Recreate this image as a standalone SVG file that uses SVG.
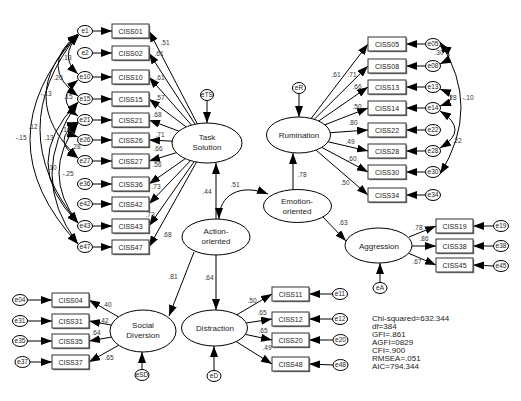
<svg xmlns="http://www.w3.org/2000/svg" width="521" height="401" viewBox="0 0 521 401">
<defs>
<marker id="ah" viewBox="0 0 11 8" refX="11" refY="4" markerWidth="11" markerHeight="8" markerUnits="userSpaceOnUse" orient="auto-start-reverse"><path d="M0,0L11,4L0,8z" fill="#000"/></marker>
</defs>
<style>
text{font-family:"Liberation Sans",Arial,sans-serif;fill:#222}
.bx{fill:#fff;stroke:#333;stroke-width:1}
.sh{fill:#777}
.bt{font-size:7px;text-anchor:middle}
.er{fill:#fff;stroke:#000;stroke-width:1}
.et{font-size:6.5px;text-anchor:middle}
.lv{fill:#fff;stroke:#000;stroke-width:1}
.lt{font-size:8px;text-anchor:middle}
.c line,.c path{stroke:#000;stroke-width:1;fill:none;marker-end:url(#ah)}
.c path.cv{marker-start:url(#ah)}
.cl{font-size:6.5px;text-anchor:middle;fill:#333}
.st{font-size:8px}
</style>
<rect width="521" height="401" fill="#fff"/>

<g id="connectors" class="c">
<line x1="92.5" y1="31" x2="112" y2="31"/><line x1="92.5" y1="53" x2="112" y2="53"/><line x1="92.5" y1="77" x2="112" y2="77"/><line x1="92.5" y1="99" x2="112" y2="99"/><line x1="92.5" y1="120" x2="112" y2="120"/><line x1="92.5" y1="140" x2="112" y2="140"/><line x1="92.5" y1="161" x2="112" y2="161"/><line x1="92.5" y1="184" x2="112" y2="184"/><line x1="92.5" y1="204" x2="112" y2="204"/><line x1="92.5" y1="226" x2="112" y2="226"/><line x1="92.5" y1="247" x2="112" y2="247"/>
<line x1="197.3" y1="123.8" x2="149" y2="31"/><line x1="195.1" y1="124.2" x2="149" y2="53"/><line x1="191.5" y1="125.1" x2="149" y2="77"/><line x1="186.2" y1="126.9" x2="149" y2="99"/><line x1="178.8" y1="131.1" x2="149" y2="120"/><line x1="172.1" y1="141.2" x2="149" y2="140"/><line x1="176.4" y1="152.7" x2="149" y2="161"/><line x1="185.2" y1="158.7" x2="149" y2="184"/><line x1="190.5" y1="160.6" x2="149" y2="204"/><line x1="194.2" y1="161.6" x2="149" y2="226"/><line x1="196.5" y1="162.1" x2="149" y2="247"/>
<line x1="207" y1="100.5" x2="207" y2="123"/>
<path class="cv" d="M78,34 Q-18,140 78,244"/>
<path class="cv" d="M78,34 Q2,130 78,223"/>
<path class="cv" d="M78,34 Q14,97 78,158"/>
<path class="cv" d="M78,34 Q38,66 78,96"/>
<path class="cv" d="M79,35 Q58,56 78,74"/>
<path class="cv" d="M78,102 Q18,163 78,223"/>
<path class="cv" d="M78,102 Q26,175 78,244"/>
<path class="cv" d="M78,80 Q54,99 78,116"/>
<path class="cv" d="M78,122 Q58,130 78,137"/>
<path class="cv" d="M78,122 Q50,141 78,158"/>
<path class="cv" d="M78,123 Q40,173 78,223"/>
<line x1="299" y1="93.5" x2="299" y2="117"/>
<line x1="311.1" y1="118.5" x2="368" y2="44"/><line x1="314.3" y1="119.3" x2="368" y2="66"/><line x1="318.7" y1="121" x2="368" y2="87"/><line x1="324.8" y1="124.8" x2="368" y2="108"/><line x1="330.3" y1="132.7" x2="368" y2="130"/><line x1="328.1" y1="141.8" x2="368" y2="151"/><line x1="321.7" y1="147.4" x2="368" y2="172"/><line x1="316" y1="150.1" x2="368" y2="195"/>
<line x1="425.5" y1="44" x2="406" y2="44"/><line x1="425.5" y1="66" x2="406" y2="66"/><line x1="425.5" y1="87" x2="406" y2="87"/><line x1="425.5" y1="108" x2="406" y2="108"/><line x1="425.5" y1="130" x2="406" y2="130"/><line x1="425.5" y1="151" x2="406" y2="151"/><line x1="425.5" y1="172" x2="406" y2="172"/><line x1="425.5" y1="195" x2="406" y2="195"/>
<path class="cv" d="M440,46 Q458,55 440,64"/>
<path class="cv" d="M440,89 Q462,98 440,106"/>
<path class="cv" d="M440,111 Q470,130 440,148"/>
<path class="cv" d="M440,42 Q482,107 440,174"/>
<line x1="293" y1="190" x2="293" y2="153"/>
<line x1="216" y1="219" x2="216" y2="163"/>
<path class="cv" d="M219,219 C219,195 240,183 268,194"/>
<line x1="323" y1="217" x2="346" y2="241"/>
<line x1="194" y1="252" x2="169" y2="316"/>
<line x1="216" y1="255" x2="216" y2="310"/>
<line x1="380" y1="283" x2="380" y2="263"/>
<line x1="409" y1="237" x2="436" y2="226"/><line x1="412" y1="246" x2="436" y2="246"/><line x1="408" y1="253" x2="436" y2="265"/>
<line x1="493.5" y1="226" x2="473" y2="226"/><line x1="493.5" y1="246" x2="473" y2="246"/><line x1="493.5" y1="266" x2="473" y2="265"/>
<line x1="142" y1="370" x2="142" y2="352"/>
<line x1="118.5" y1="316.9" x2="89" y2="300"/><line x1="111.3" y1="325.1" x2="89" y2="321"/><line x1="111.5" y1="337.1" x2="89" y2="341"/><line x1="118.7" y1="345.2" x2="89" y2="362"/>
<line x1="27.5" y1="300" x2="52" y2="300"/><line x1="27.5" y1="321" x2="52" y2="321"/><line x1="27.5" y1="341" x2="52" y2="341"/><line x1="30" y1="362" x2="52" y2="362"/>
<line x1="214" y1="371" x2="214" y2="346"/>
<line x1="236.9" y1="314.8" x2="272" y2="294"/><line x1="246.2" y1="323" x2="272" y2="319"/><line x1="245.3" y1="334.4" x2="272" y2="340"/><line x1="236.2" y1="341.6" x2="272" y2="364"/>
<line x1="332.5" y1="294" x2="309" y2="294"/><line x1="332.5" y1="319" x2="309" y2="319"/><line x1="333" y1="340" x2="309" y2="340"/><line x1="333" y1="365" x2="309" y2="364"/>
</g>

<g id="labels">
<text class="cl" x="165" y="45">.51</text><text class="cl" x="159" y="56">.61</text><text class="cl" x="160" y="80">.61</text><text class="cl" x="160" y="100">.57</text><text class="cl" x="157" y="117">.68</text><text class="cl" x="160" y="137">.71</text><text class="cl" x="158" y="151">.66</text><text class="cl" x="157" y="167">.56</text><text class="cl" x="156" y="189">.73</text><text class="cl" x="150" y="217">.73</text><text class="cl" x="167" y="237">.68</text>
<text class="cl" x="67" y="60">.13</text><text class="cl" x="58" y="80">.20</text><text class="cl" x="46" y="96">-.13</text><text class="cl" x="68" y="99">.15</text><text class="cl" x="33" y="129">.12</text><text class="cl" x="66" y="132">.10</text><text class="cl" x="21" y="140">-.15</text><text class="cl" x="49" y="140">.13</text><text class="cl" x="76" y="149">.28</text><text class="cl" x="52" y="170">.10</text><text class="cl" x="68" y="176">-.25</text>
<text class="cl" x="336" y="77">.61</text><text class="cl" x="352" y="77">.71</text><text class="cl" x="357" y="89">.66</text><text class="cl" x="357" y="109">.50</text><text class="cl" x="353" y="125">.80</text><text class="cl" x="350" y="144">.49</text><text class="cl" x="352" y="161">.60</text><text class="cl" x="345" y="185">.50</text>
<text class="cl" x="439" y="55">.30</text><text class="cl" x="452" y="100">.28</text><text class="cl" x="468" y="100">-.10</text><text class="cl" x="457" y="143">.22</text>
<text class="cl" x="302" y="177">.78</text><text class="cl" x="207" y="194">.44</text><text class="cl" x="235" y="187">.51</text><text class="cl" x="343" y="225">.63</text><text class="cl" x="173" y="279">.81</text><text class="cl" x="209" y="280">.64</text>
<text class="cl" x="418" y="230">.78</text><text class="cl" x="424" y="241">.86</text><text class="cl" x="417" y="264">.67</text>
<text class="cl" x="107" y="307">.40</text><text class="cl" x="104" y="323">.42</text><text class="cl" x="96" y="335">.64</text><text class="cl" x="109" y="360">.65</text>
<text class="cl" x="252" y="303">.50</text><text class="cl" x="262" y="315">.65</text><text class="cl" x="263" y="333">.65</text><text class="cl" x="267" y="350">.49</text>
</g>

<g id="TaskSolution"><ellipse class="lv" cx="207" cy="143" rx="35" ry="20"/><text class="lt" x="207" y="140">Task</text><text class="lt" x="207" y="150">Solution</text></g>
<g id="eTS"><ellipse class="er" cx="207" cy="95" rx="6.5" ry="5.5"/><text class="et" x="207" y="97.3">eTS</text></g>
<g id="Rumination"><ellipse class="lv" cx="298.5" cy="135" rx="32" ry="18"/><text class="lt" x="299" y="138">Rumination</text></g>
<g id="eR"><ellipse class="er" cx="299" cy="88" rx="6.5" ry="5.5"/><text class="et" x="299" y="90.3">eR</text></g>
<g id="EmotionOriented"><ellipse class="lv" cx="297.5" cy="206" rx="34" ry="16.5"/><text class="lt" x="297" y="204">Emotion-</text><text class="lt" x="297" y="214">oriented</text></g>
<g id="ActionOriented"><ellipse class="lv" cx="216" cy="237" rx="34" ry="18"/><text class="lt" x="216" y="234">Action-</text><text class="lt" x="216" y="244">oriented</text></g>
<g id="Aggression"><ellipse class="lv" cx="378.5" cy="245.5" rx="33.5" ry="17.5"/><text class="lt" x="379" y="248.5">Aggression</text></g>
<g id="eA"><ellipse class="er" cx="380" cy="288" rx="7" ry="5.5"/><text class="et" x="380" y="290.3">eA</text></g>
<g id="SocialDiversion"><ellipse class="lv" cx="143" cy="331" rx="33" ry="21"/><text class="lt" x="143" y="328">Social</text><text class="lt" x="143" y="338">Diversion</text></g>
<g id="eSD"><ellipse class="er" cx="142" cy="375" rx="7" ry="5.5"/><text class="et" x="142" y="377.3">eSD</text></g>
<g id="Distraction"><ellipse class="lv" cx="214.5" cy="328" rx="33" ry="18"/><text class="lt" x="215" y="331">Distraction</text></g>
<g id="eD"><ellipse class="er" cx="214" cy="376" rx="7" ry="5.5"/><text class="et" x="214" y="378.3">eD</text></g>

<g id="CISS01"><rect class="sh" x="113.2" y="25.2" width="37" height="14"/><rect class="bx" x="112" y="24" width="37" height="14"/><text class="bt" x="130.5" y="33.5">CISS01</text></g>
<g id="CISS02"><rect class="sh" x="113.2" y="47.2" width="37" height="14"/><rect class="bx" x="112" y="46" width="37" height="14"/><text class="bt" x="130.5" y="55.5">CISS02</text></g>
<g id="CISS10"><rect class="sh" x="113.2" y="71.2" width="37" height="14"/><rect class="bx" x="112" y="70" width="37" height="14"/><text class="bt" x="130.5" y="79.5">CISS10</text></g>
<g id="CISS15"><rect class="sh" x="113.2" y="93.2" width="37" height="14"/><rect class="bx" x="112" y="92" width="37" height="14"/><text class="bt" x="130.5" y="101.5">CISS15</text></g>
<g id="CISS21"><rect class="sh" x="113.2" y="114.2" width="37" height="14"/><rect class="bx" x="112" y="113" width="37" height="14"/><text class="bt" x="130.5" y="122.5">CISS21</text></g>
<g id="CISS26"><rect class="sh" x="113.2" y="134.2" width="37" height="14"/><rect class="bx" x="112" y="133" width="37" height="14"/><text class="bt" x="130.5" y="142.5">CISS26</text></g>
<g id="CISS27"><rect class="sh" x="113.2" y="155.2" width="37" height="14"/><rect class="bx" x="112" y="154" width="37" height="14"/><text class="bt" x="130.5" y="163.5">CISS27</text></g>
<g id="CISS36"><rect class="sh" x="113.2" y="178.2" width="37" height="14"/><rect class="bx" x="112" y="177" width="37" height="14"/><text class="bt" x="130.5" y="186.5">CISS36</text></g>
<g id="CISS42"><rect class="sh" x="113.2" y="198.2" width="37" height="14"/><rect class="bx" x="112" y="197" width="37" height="14"/><text class="bt" x="130.5" y="206.5">CISS42</text></g>
<g id="CISS43"><rect class="sh" x="113.2" y="220.2" width="37" height="14"/><rect class="bx" x="112" y="219" width="37" height="14"/><text class="bt" x="130.5" y="228.5">CISS43</text></g>
<g id="CISS47"><rect class="sh" x="113.2" y="241.2" width="37" height="14"/><rect class="bx" x="112" y="240" width="37" height="14"/><text class="bt" x="130.5" y="249.5">CISS47</text></g>

<g id="e1"><ellipse class="er" cx="85" cy="31" rx="7.5" ry="5.5"/><text class="et" x="85" y="33.3">e1</text></g>
<g id="e2"><ellipse class="er" cx="85" cy="53" rx="7.5" ry="5.5"/><text class="et" x="85" y="55.3">e2</text></g>
<g id="e10"><ellipse class="er" cx="85" cy="77" rx="7.5" ry="5.5"/><text class="et" x="85" y="79.3">e10</text></g>
<g id="e15"><ellipse class="er" cx="85" cy="99" rx="7.5" ry="5.5"/><text class="et" x="85" y="101.3">e15</text></g>
<g id="e21"><ellipse class="er" cx="85" cy="120" rx="7.5" ry="5.5"/><text class="et" x="85" y="122.3">e21</text></g>
<g id="e26"><ellipse class="er" cx="85" cy="140" rx="7.5" ry="5.5"/><text class="et" x="85" y="142.3">e26</text></g>
<g id="e27"><ellipse class="er" cx="85" cy="161" rx="7.5" ry="5.5"/><text class="et" x="85" y="163.3">e27</text></g>
<g id="e36"><ellipse class="er" cx="85" cy="184" rx="7.5" ry="5.5"/><text class="et" x="85" y="186.3">e36</text></g>
<g id="e42"><ellipse class="er" cx="85" cy="204" rx="7.5" ry="5.5"/><text class="et" x="85" y="206.3">e42</text></g>
<g id="e43"><ellipse class="er" cx="85" cy="226" rx="7.5" ry="5.5"/><text class="et" x="85" y="228.3">e43</text></g>
<g id="e47"><ellipse class="er" cx="85" cy="247" rx="7.5" ry="5.5"/><text class="et" x="85" y="249.3">e47</text></g>

<g id="CISS05"><rect class="sh" x="369.2" y="38.2" width="38" height="14"/><rect class="bx" x="368" y="37" width="38" height="14"/><text class="bt" x="387" y="46.5">CISS05</text></g>
<g id="CISS08"><rect class="sh" x="369.2" y="60.2" width="38" height="14"/><rect class="bx" x="368" y="59" width="38" height="14"/><text class="bt" x="387" y="68.5">CISS08</text></g>
<g id="CISS13"><rect class="sh" x="369.2" y="81.2" width="38" height="14"/><rect class="bx" x="368" y="80" width="38" height="14"/><text class="bt" x="387" y="89.5">CISS13</text></g>
<g id="CISS14"><rect class="sh" x="369.2" y="102.2" width="38" height="14"/><rect class="bx" x="368" y="101" width="38" height="14"/><text class="bt" x="387" y="110.5">CISS14</text></g>
<g id="CISS22"><rect class="sh" x="369.2" y="124.2" width="38" height="14"/><rect class="bx" x="368" y="123" width="38" height="14"/><text class="bt" x="387" y="132.5">CISS22</text></g>
<g id="CISS28"><rect class="sh" x="369.2" y="145.2" width="38" height="14"/><rect class="bx" x="368" y="144" width="38" height="14"/><text class="bt" x="387" y="153.5">CISS28</text></g>
<g id="CISS30"><rect class="sh" x="369.2" y="166.2" width="38" height="14"/><rect class="bx" x="368" y="165" width="38" height="14"/><text class="bt" x="387" y="174.5">CISS30</text></g>
<g id="CISS34"><rect class="sh" x="369.2" y="189.2" width="38" height="14"/><rect class="bx" x="368" y="188" width="38" height="14"/><text class="bt" x="387" y="197.5">CISS34</text></g>

<g id="e05"><ellipse class="er" cx="433" cy="44" rx="7.5" ry="5.5"/><text class="et" x="433" y="46.3">e05</text></g>
<g id="e08"><ellipse class="er" cx="433" cy="66" rx="7.5" ry="5.5"/><text class="et" x="433" y="68.3">e08</text></g>
<g id="e13"><ellipse class="er" cx="433" cy="87" rx="7.5" ry="5.5"/><text class="et" x="433" y="89.3">e13</text></g>
<g id="e14"><ellipse class="er" cx="433" cy="108" rx="7.5" ry="5.5"/><text class="et" x="433" y="110.3">e14</text></g>
<g id="e22"><ellipse class="er" cx="433" cy="130" rx="7.5" ry="5.5"/><text class="et" x="433" y="132.3">e22</text></g>
<g id="e28"><ellipse class="er" cx="433" cy="151" rx="7.5" ry="5.5"/><text class="et" x="433" y="153.3">e28</text></g>
<g id="e30"><ellipse class="er" cx="433" cy="172" rx="7.5" ry="5.5"/><text class="et" x="433" y="174.3">e30</text></g>
<g id="e34"><ellipse class="er" cx="433" cy="195" rx="7.5" ry="5.5"/><text class="et" x="433" y="197.3">e34</text></g>

<g id="CISS19"><rect class="sh" x="437.2" y="220.2" width="37" height="14"/><rect class="bx" x="436" y="219" width="37" height="14"/><text class="bt" x="454.5" y="228.5">CISS19</text></g>
<g id="CISS38"><rect class="sh" x="437.2" y="240.2" width="37" height="14"/><rect class="bx" x="436" y="239" width="37" height="14"/><text class="bt" x="454.5" y="248.5">CISS38</text></g>
<g id="CISS45"><rect class="sh" x="437.2" y="259.2" width="37" height="14"/><rect class="bx" x="436" y="258" width="37" height="14"/><text class="bt" x="454.5" y="267.5">CISS45</text></g>
<g id="e19"><ellipse class="er" cx="501" cy="226" rx="7.5" ry="5.5"/><text class="et" x="501" y="228.3">e19</text></g>
<g id="e38"><ellipse class="er" cx="501" cy="246" rx="7.5" ry="5.5"/><text class="et" x="501" y="248.3">e38</text></g>
<g id="e45"><ellipse class="er" cx="501" cy="266" rx="7.5" ry="5.5"/><text class="et" x="501" y="268.3">e45</text></g>

<g id="CISS04"><rect class="sh" x="53.2" y="294.2" width="37" height="14"/><rect class="bx" x="52" y="293" width="37" height="14"/><text class="bt" x="70.5" y="302.5">CISS04</text></g>
<g id="CISS31"><rect class="sh" x="53.2" y="315.2" width="37" height="14"/><rect class="bx" x="52" y="314" width="37" height="14"/><text class="bt" x="70.5" y="323.5">CISS31</text></g>
<g id="CISS35"><rect class="sh" x="53.2" y="335.2" width="37" height="14"/><rect class="bx" x="52" y="334" width="37" height="14"/><text class="bt" x="70.5" y="343.5">CISS35</text></g>
<g id="CISS37"><rect class="sh" x="53.2" y="356.2" width="37" height="14"/><rect class="bx" x="52" y="355" width="37" height="14"/><text class="bt" x="70.5" y="364.5">CISS37</text></g>
<g id="e04"><ellipse class="er" cx="20" cy="300" rx="7.5" ry="5.5"/><text class="et" x="20" y="302.3">e04</text></g>
<g id="e31"><ellipse class="er" cx="20" cy="321" rx="7.5" ry="5.5"/><text class="et" x="20" y="323.3">e31</text></g>
<g id="e35"><ellipse class="er" cx="20" cy="341" rx="7.5" ry="5.5"/><text class="et" x="20" y="343.3">e35</text></g>
<g id="e37"><ellipse class="er" cx="22.5" cy="362" rx="7.5" ry="5.5"/><text class="et" x="22.5" y="364.3">e37</text></g>

<g id="CISS11"><rect class="sh" x="273.2" y="288.2" width="37" height="14"/><rect class="bx" x="272" y="287" width="37" height="14"/><text class="bt" x="290.5" y="296.5">CISS11</text></g>
<g id="CISS12"><rect class="sh" x="273.2" y="313.2" width="37" height="14"/><rect class="bx" x="272" y="312" width="37" height="14"/><text class="bt" x="290.5" y="321.5">CISS12</text></g>
<g id="CISS20"><rect class="sh" x="273.2" y="334.2" width="37" height="14"/><rect class="bx" x="272" y="333" width="37" height="14"/><text class="bt" x="290.5" y="342.5">CISS20</text></g>
<g id="CISS48"><rect class="sh" x="273.2" y="358.2" width="37" height="14"/><rect class="bx" x="272" y="357" width="37" height="14"/><text class="bt" x="290.5" y="366.5">CISS48</text></g>
<g id="e11"><ellipse class="er" cx="340" cy="294" rx="7.5" ry="5.5"/><text class="et" x="340" y="296.3">e11</text></g>
<g id="e12"><ellipse class="er" cx="340" cy="319" rx="7.5" ry="5.5"/><text class="et" x="340" y="321.3">e12</text></g>
<g id="e20"><ellipse class="er" cx="340.5" cy="340" rx="7.5" ry="5.5"/><text class="et" x="340.5" y="342.3">e20</text></g>
<g id="e48"><ellipse class="er" cx="340.5" cy="365" rx="7.5" ry="5.5"/><text class="et" x="340.5" y="367.3">e48</text></g>

<g id="fit-stats">
<text class="st" x="372" y="321">Chi-squared=632.344</text>
<text class="st" x="372" y="329">df=384</text>
<text class="st" x="372" y="337">GFI=.861</text>
<text class="st" x="372" y="345">AGFI=0829</text>
<text class="st" x="372" y="353">CFI=.900</text>
<text class="st" x="372" y="361">RMSEA=.051</text>
<text class="st" x="372" y="369">AIC=794.344</text>
</g>
</svg>
